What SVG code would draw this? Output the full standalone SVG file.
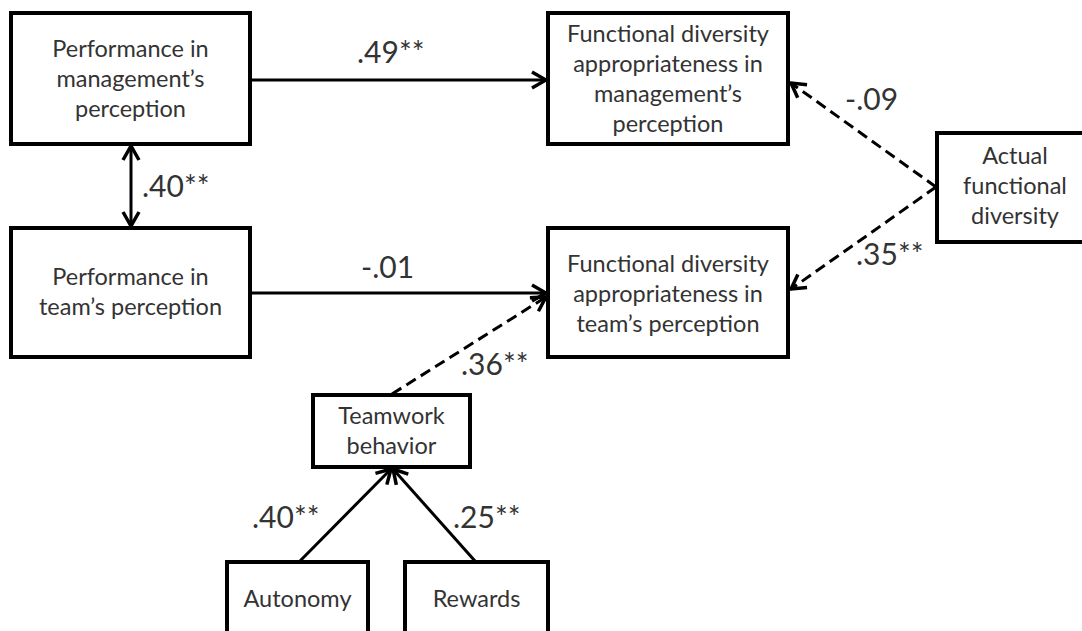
<svg xmlns="http://www.w3.org/2000/svg" width="1082" height="631" viewBox="0 0 1082 631">
  <style>
    .box { fill: #ffffff; stroke: #000000; stroke-width: 4; }
    .t { font-family: Lato, "Open Sans", "Liberation Sans", sans-serif; font-size: 23.5px; fill: #333333; text-anchor: middle; }
    .lbl { font-family: Lato, "Open Sans", "Liberation Sans", sans-serif; font-size: 30px; fill: #333333; }
    .ln { fill: none; stroke: #000000; stroke-width: 3; }
    .dash { stroke-dasharray: 11 6; }
  </style>
  <defs>
    <marker id="ah" markerUnits="userSpaceOnUse" viewBox="-18 -10 20 20" refX="0" refY="0" markerWidth="20" markerHeight="20" orient="auto-start-reverse">
      <path d="M-14,-8 L0,0 L-14,8" fill="none" stroke="#000" stroke-width="3.5" stroke-linejoin="miter"/>
    </marker>
  </defs>
  <rect width="1082" height="631" fill="#ffffff"/>

  <g id="connectors">
    <line class="ln" x1="252" y1="80" x2="546" y2="80" marker-end="url(#ah)"/>
    <line class="ln" x1="252" y1="293" x2="546" y2="293" marker-end="url(#ah)"/>
    <line class="ln" x1="131" y1="146" x2="131" y2="226" marker-start="url(#ah)" marker-end="url(#ah)"/>
    <line class="ln dash" x1="936" y1="187" x2="791" y2="83" marker-end="url(#ah)"/>
    <line class="ln dash" x1="936" y1="187" x2="791" y2="289" marker-end="url(#ah)"/>
    <line class="ln dash" x1="392" y1="394" x2="546" y2="297" marker-end="url(#ah)"/>
    <line class="ln" x1="300" y1="561" x2="391" y2="469" marker-end="url(#ah)"/>
    <line class="ln" x1="475" y1="561" x2="393" y2="469" marker-end="url(#ah)"/>
    <text class="lbl" x="357" y="63">.49**</text>
    <text class="lbl" x="361" y="278">-.01</text>
    <text class="lbl" x="142" y="197">.40**</text>
    <text class="lbl" x="845" y="110">-.09</text>
    <text class="lbl" x="856" y="265">.35**</text>
    <text class="lbl" x="461" y="375">.36**</text>
    <text class="lbl" x="252" y="528">.40**</text>
    <text class="lbl" x="453" y="528">.25**</text>
  </g>

  <g id="perf-mgmt">
    <rect class="box" x="11" y="13" width="239" height="131"/>
    <text class="t" x="130.5" y="57">Performance in</text>
    <text class="t" x="130.5" y="87">management’s</text>
    <text class="t" x="130.5" y="117">perception</text>
  </g>

  <g id="fd-mgmt">
    <rect class="box" x="548" y="13" width="240" height="131"/>
    <text class="t" x="668" y="42">Functional diversity</text>
    <text class="t" x="668" y="72">appropriateness in</text>
    <text class="t" x="668" y="102">management’s</text>
    <text class="t" x="668" y="132">perception</text>
  </g>

  <g id="actual-fd">
    <rect class="box" x="937" y="133" width="160" height="109"/>
    <text class="t" x="1015" y="164">Actual</text>
    <text class="t" x="1015" y="194">functional</text>
    <text class="t" x="1015" y="224">diversity</text>
  </g>

  <g id="perf-team">
    <rect class="box" x="11" y="228" width="239" height="129"/>
    <text class="t" x="130.5" y="285">Performance in</text>
    <text class="t" x="130.5" y="315">team’s perception</text>
  </g>

  <g id="fd-team">
    <rect class="box" x="548" y="228" width="240" height="129"/>
    <text class="t" x="668" y="272">Functional diversity</text>
    <text class="t" x="668" y="302">appropriateness in</text>
    <text class="t" x="668" y="332">team’s perception</text>
  </g>

  <g id="teamwork">
    <rect class="box" x="313" y="395" width="157" height="72"/>
    <text class="t" x="391.5" y="424">Teamwork</text>
    <text class="t" x="391.5" y="454">behavior</text>
  </g>

  <g id="autonomy">
    <rect class="box" x="227" y="562" width="141" height="90"/>
    <text class="t" x="297.5" y="607">Autonomy</text>
  </g>

  <g id="rewards">
    <rect class="box" x="405" y="562" width="143" height="90"/>
    <text class="t" x="476.5" y="607">Rewards</text>
  </g>
</svg>
